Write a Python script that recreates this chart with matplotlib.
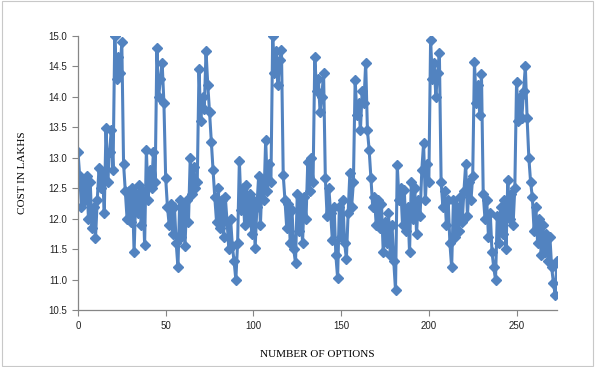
import matplotlib
matplotlib.use('Agg')
import matplotlib.pyplot as plt
import numpy as np
from matplotlib.patches import Rectangle

# cost per option (options 0..273)
cost = [
    13.1, 12.7, 12.2, 12.65, 12.3, 12.7, 12.0, 12.6, 11.85, 12.2,
    11.68, 12.3, 12.83, 12.5, 12.75, 12.1, 13.49, 12.6, 13.1, 13.45,
    12.8, 15.0, 14.3, 14.65, 14.4, 14.9, 12.9, 12.45, 12.0, 12.45,
    11.95, 12.5, 11.45, 12.4, 12.1, 12.55, 11.9, 12.45, 11.57, 13.13,
    12.3, 12.8, 12.5, 13.1, 12.6, 14.8, 14.0, 14.3, 14.55, 13.9,
    12.67, 12.2, 11.9, 12.25, 11.75, 12.2, 11.6, 11.2, 12.3, 11.7,
    12.2, 11.55, 12.3, 11.95, 13.0, 12.4, 12.85, 12.5, 12.6, 14.45,
    13.6, 14.0, 13.8, 14.75, 14.2, 13.75, 13.26, 12.8, 12.35, 11.95,
    12.5, 11.85, 12.3, 11.7, 12.35, 11.95, 11.5, 12.0, 11.55, 11.3,
    11.0, 11.6, 12.95, 12.15, 12.5, 11.9, 12.55, 12.0, 12.4, 11.75,
    12.3, 11.52, 12.2, 12.7, 11.9, 12.65, 12.3, 13.3, 12.45, 12.9,
    12.6, 15.0, 14.4, 14.75, 14.2, 14.6, 14.77, 12.72, 12.3, 11.85,
    12.25, 11.6, 12.15, 11.5, 11.27, 12.4, 11.8, 12.3, 11.6, 12.35,
    12.0, 12.93, 12.45, 13.0, 12.6, 14.65, 14.1, 14.3, 13.75, 14.0,
    14.4, 12.67, 12.05, 12.5, 12.1, 11.65, 12.2, 11.4, 11.03, 12.2,
    11.7, 12.3, 11.6, 11.34, 12.1, 12.75, 12.2, 12.6, 14.28, 13.7,
    13.9, 13.45, 14.1, 13.9, 14.56, 13.45, 13.12, 12.67, 12.2, 12.35,
    11.9, 12.3, 11.85, 12.25, 11.45, 11.95, 11.6, 12.1, 11.4, 11.9,
    11.3, 10.83, 12.88, 12.3, 12.5, 11.9, 12.47, 11.8, 12.2, 11.45,
    12.6, 12.0, 12.5, 11.75, 12.3, 12.05, 12.8, 13.24, 12.3, 12.9,
    12.6, 14.93, 14.3, 14.56, 14.0, 14.4, 14.72, 12.6, 12.2, 12.45,
    11.9, 12.3, 11.6, 11.2, 12.3, 11.7, 12.2, 11.8, 12.35, 11.95,
    12.45, 12.9, 12.05, 12.6, 12.3, 12.7, 14.57, 13.9, 14.2, 13.7,
    14.37, 12.4, 12.0, 12.3, 11.7, 12.1, 11.45, 11.2, 11.0, 12.05,
    11.6, 12.2, 11.75, 12.3, 11.5, 12.64, 12.0, 12.4, 11.9, 12.5,
    14.25, 13.6, 14.0, 13.65, 14.1, 14.5, 13.65, 13.0, 12.6, 12.35,
    11.8, 12.2, 11.6, 12.0, 11.4, 11.9, 11.45, 11.75, 11.3, 11.7,
    11.2, 10.95, 10.75, 11.3,
]
options = np.arange(len(cost))

x_ticks = [0, 50, 100, 150, 200, 250]
y_ticks = [10.5, 11.0, 11.5, 12.0, 12.5, 13.0, 13.5, 14.0, 14.5, 15.0]

fig = plt.figure(figsize=(5.95, 3.67), dpi=100)
ax = fig.add_axes([0.131, 0.155, 0.805, 0.747])

ax.plot(options, cost, color='#5283c0', lw=2.2, marker='D', ms=4.8,
        mec='#5283c0', mfc='#5283c0')

ax.set_xlim(0, len(cost) - 1)
ax.set_ylim(10.5, 15.0)
ax.set_xticks(x_ticks)
ax.set_yticks(y_ticks)
ax.set_yticklabels(['%.1f' % v for v in y_ticks])

for s in ['top', 'right']:
    ax.spines[s].set_visible(False)
for s in ['left', 'bottom']:
    ax.spines[s].set_color('#868686')
    ax.spines[s].set_linewidth(0.9)
ax.tick_params(direction='out', length=4, width=0.8, color='#868686',
               labelsize=7, labelcolor='#222222')
for lab in ax.get_xticklabels() + ax.get_yticklabels():
    lab.set_family('Liberation Sans')

ax.set_xlabel('NUMBER OF OPTIONS', family='Liberation Serif', fontsize=8,
              labelpad=14)
ax.set_ylabel('COST IN LAKHS', family='Liberation Serif', fontsize=8,
              labelpad=16)

# chart border
fig.patches.append(Rectangle((0.004, 0.004), 0.992, 0.992,
                             transform=fig.transFigure, fill=False,
                             ec='#c8c8c8', lw=0.8))

fig.savefig('out.png', dpi=100)
